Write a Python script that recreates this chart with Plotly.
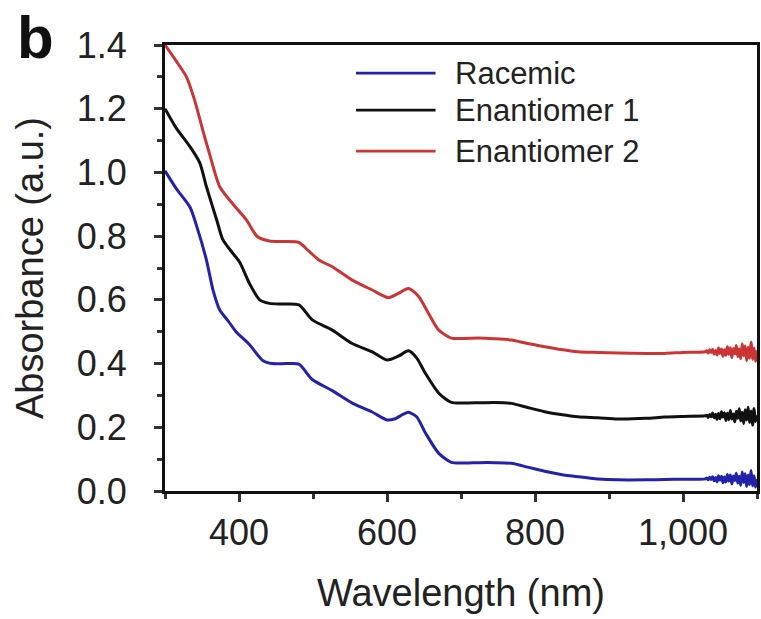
import plotly.graph_objects as go

# ---------------- data ----------------
series_names = ["Racemic", "Enantiomer 1", "Enantiomer 2"]
series_colors = ["#2222aa", "#111111", "#cc3535"]

tail_x = [1032, 1034, 1036, 1038, 1040, 1042, 1044, 1046, 1048, 1050, 1052, 1054,
          1056, 1058, 1060, 1062, 1064, 1066, 1068, 1070, 1072, 1074, 1076, 1078,
          1080, 1082, 1084, 1086, 1088, 1090, 1092, 1094, 1096, 1098, 1100]

racemic_x = [300, 315, 334, 343, 356, 365, 374, 385, 396, 414, 432, 445, 465, 481, 499,
             526, 553, 580, 600, 610, 622, 629, 640, 652, 670, 687, 705, 724, 745, 768,
             790, 813, 835, 858, 885, 912, 950, 975, 1000, 1030] + tail_x
racemic_y = [1.005, 0.95, 0.89, 0.83, 0.725, 0.63, 0.568, 0.535, 0.50, 0.46, 0.41, 0.40,
             0.40, 0.398, 0.35, 0.315, 0.276, 0.248, 0.223, 0.226, 0.241, 0.247, 0.233,
             0.182, 0.118, 0.09, 0.088, 0.089, 0.089, 0.087, 0.075, 0.062, 0.052, 0.045,
             0.038, 0.035, 0.035, 0.036, 0.037, 0.038,
             0.041, 0.035, 0.043, 0.036, 0.045, 0.032, 0.042, 0.029, 0.048, 0.034, 0.046,
             0.026, 0.044, 0.028, 0.052, 0.031, 0.050, 0.022, 0.047, 0.033, 0.056, 0.025,
             0.046, 0.018, 0.060, 0.027, 0.054, 0.014, 0.050, 0.020, 0.064, 0.016, 0.048,
             0.012, 0.038]

enant1_x = [300, 315, 334, 347, 356, 370, 378, 392, 401, 414, 428, 441, 460, 481, 499,
            526, 553, 580, 600, 616, 629, 640, 652, 670, 687, 705, 724, 745, 768, 790,
            813, 835, 858, 885, 912, 950, 975, 1000, 1030] + tail_x
enant1_y = [1.20, 1.14, 1.08, 1.03, 0.955, 0.85, 0.79, 0.745, 0.718, 0.652, 0.60, 0.589,
            0.587, 0.584, 0.537, 0.505, 0.463, 0.437, 0.411, 0.424, 0.440, 0.418, 0.369,
            0.307, 0.278, 0.276, 0.277, 0.278, 0.275, 0.262, 0.249, 0.240, 0.233, 0.230,
            0.226, 0.228, 0.232, 0.234, 0.236,
            0.238, 0.231, 0.240, 0.233, 0.245, 0.230, 0.241, 0.225, 0.243, 0.227, 0.249,
            0.232, 0.246, 0.221, 0.244, 0.224, 0.253, 0.226, 0.242, 0.217, 0.250, 0.228,
            0.258, 0.220, 0.247, 0.212, 0.255, 0.223, 0.263, 0.215, 0.251, 0.207, 0.259,
            0.218, 0.238]

enant2_x = [300, 315, 329, 340, 351, 360, 374, 392, 410, 425, 441, 460, 481, 493, 508,
            526, 553, 580, 602, 616, 629, 643, 656, 670, 687, 705, 724, 745, 768, 790,
            813, 835, 858, 885, 912, 950, 975, 1000, 1030] + tail_x
enant2_y = [1.40, 1.35, 1.30, 1.227, 1.133, 1.06, 0.955, 0.90, 0.851, 0.798, 0.785, 0.783,
            0.780, 0.756, 0.725, 0.704, 0.662, 0.631, 0.607, 0.621, 0.636, 0.610, 0.558,
            0.505, 0.480, 0.479, 0.480, 0.478, 0.474, 0.463, 0.453, 0.444, 0.437, 0.435,
            0.433, 0.432, 0.432, 0.435, 0.437,
            0.440, 0.433, 0.443, 0.435, 0.445, 0.430, 0.441, 0.427, 0.449, 0.432, 0.446,
            0.423, 0.443, 0.426, 0.453, 0.429, 0.450, 0.419, 0.447, 0.431, 0.457, 0.422,
            0.446, 0.415, 0.462, 0.425, 0.455, 0.409, 0.451, 0.417, 0.467, 0.413, 0.449,
            0.407, 0.442]

x_tick_vals = [400, 600, 800, 1000]
x_tick_text = ["400", "600", "800", "1,000"]
y_tick_vals = [0.0, 0.2, 0.4, 0.6, 0.8, 1.0, 1.2, 1.4]
y_tick_text = ["0.0", "0.2", "0.4", "0.6", "0.8", "1.0", "1.2", "1.4"]

x_title = "Wavelength (nm)"
y_title = "Absorbance (a.u.)"
panel_label = "b"

# ---------------- figure ----------------
FONT = "Liberation Sans, Arial, sans-serif"
xs = [racemic_x, enant1_x, enant2_x]
ys = [racemic_y, enant1_y, enant2_y]

fig = go.Figure()
for name, color, x, y in zip(series_names, series_colors, xs, ys):
    fig.add_trace(go.Scatter(x=x, y=y, mode="lines", name=name,
                             line=dict(color=color, width=3, shape="spline",
                                       smoothing=0.7),
                             showlegend=False))

# custom legend (long line samples as in the reference)
leg_y = [0.937, 0.854, 0.762]
for name, color, yy in zip(series_names, series_colors, leg_y):
    fig.add_shape(type="line", xref="paper", yref="paper",
                  x0=0.3227, x1=0.457, y0=yy, y1=yy,
                  line=dict(color=color, width=2.6))
    fig.add_annotation(xref="paper", yref="paper", x=0.487, y=yy,
                       xanchor="left", yanchor="middle", showarrow=False,
                       text=name, font=dict(family=FONT, size=31, color="#222"))

fig.add_annotation(xref="paper", yref="paper", x=-0.2185, y=1.0157,
                   xanchor="center", yanchor="middle", showarrow=False,
                   text="<b>%s</b>" % panel_label,
                   font=dict(family=FONT, size=60, color="#111"))

axis_common = dict(showgrid=False, zeroline=False, showline=True, linecolor="#111",
                   linewidth=3, mirror=True, ticks="outside", ticklen=8, tickwidth=3,
                   tickcolor="#333", tickfont=dict(family=FONT, size=36, color="#222"))

fig.update_xaxes(range=[300, 1100], tickvals=x_tick_vals, ticktext=x_tick_text,
                 ticklabelstandoff=0,
                 minor=dict(dtick=100, tick0=0, ticklen=5, tickwidth=3,
                            tickcolor="#333", ticks="outside"),
                 title=dict(text=x_title, standoff=28,
                            font=dict(family=FONT, size=38, color="#222")),
                 **axis_common)
fig.update_yaxes(range=[0, 1.4], tickvals=y_tick_vals, ticktext=y_tick_text,
                 ticklabelstandoff=20,
                 minor=dict(dtick=0.1, tick0=0, ticklen=5, tickwidth=3,
                            tickcolor="#333", ticks="outside"),
                 title=dict(text=y_title, standoff=22,
                            font=dict(family=FONT, size=38, color="#222")),
                 **axis_common)

fig.update_layout(width=761, height=619,
                  margin=dict(l=165, r=1, t=45, b=128),
                  paper_bgcolor="white", plot_bgcolor="white",
                  font=dict(family=FONT))

fig.write_html("out.html", config={"displayModeBar": False},
               post_script="document.body.style.margin='0px';"
                           "document.body.style.overflow='hidden';")
